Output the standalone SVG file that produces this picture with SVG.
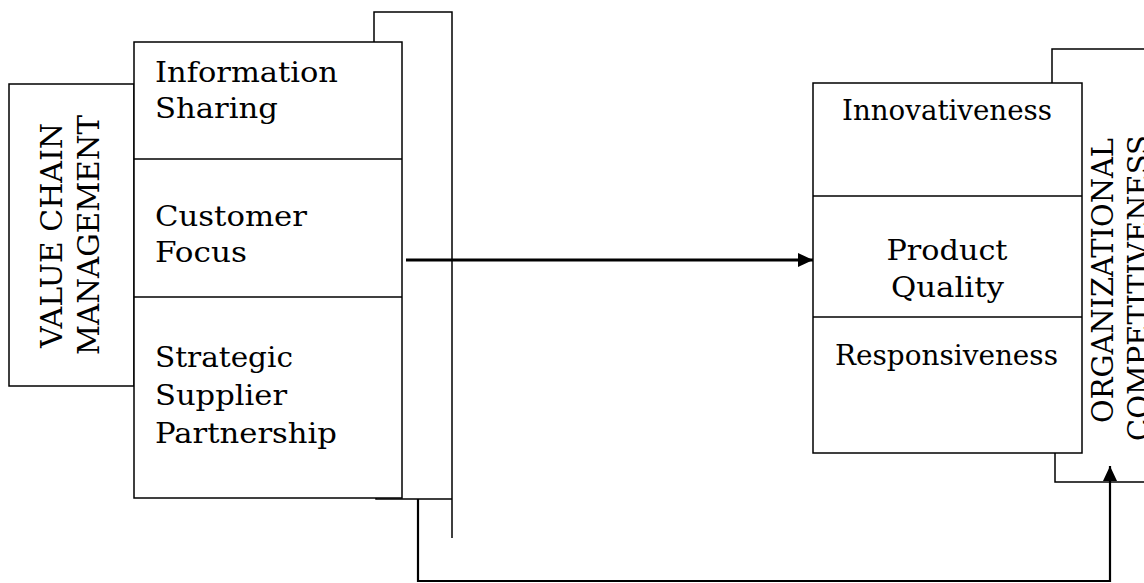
<svg xmlns="http://www.w3.org/2000/svg" width="1144" height="583" viewBox="0 0 1144 583">
<style>
.box{fill:#fff;stroke:#000;stroke-width:1.5}
.ln{fill:none;stroke:#000;stroke-width:1.5}
.t{font-family:"DejaVu Serif","Liberation Serif",serif;font-size:27px;fill:#000}
.tr{font-family:"DejaVu Serif","Liberation Serif",serif;font-size:29px;fill:#000}
.c{text-anchor:middle}
</style>
<defs>
<marker id="ah" markerWidth="15" markerHeight="14" refX="15" refY="7" orient="auto" markerUnits="userSpaceOnUse">
<path d="M0,0 L15,7 L0,14 Z" fill="#000"/>
</marker>
</defs>
<rect width="1144" height="583" fill="#fff"/>
<g id="connectors">
<path class="ln" d="M374,45 V12 H452 V538"/>
<path class="ln" d="M376,467 V499 H452"/>
<path class="ln" d="M1052,83 V49 H1144"/>
<path class="ln" d="M1055,453 V482 H1144"/>
<line x1="406" y1="260" x2="813" y2="260" stroke="#000" stroke-width="3" marker-end="url(#ah)"/>
<path d="M418,499 V581 H1110 V466" fill="none" stroke="#000" stroke-width="2.2" marker-end="url(#ah)"/>
</g>
<g id="vcm">
<rect class="box" x="9" y="84" width="125" height="302"/>
<text class="tr c" transform="translate(62,235.5) rotate(-90)" textLength="225" lengthAdjust="spacingAndGlyphs">VALUE CHAIN</text>
<text class="tr c" transform="translate(99,235) rotate(-90)" textLength="240" lengthAdjust="spacingAndGlyphs">MANAGEMENT</text>
</g>
<g id="vcm-dimensions">
<rect class="box" x="134" y="42" width="268" height="456"/>
<line class="ln" x1="134" y1="159" x2="402" y2="159"/>
<line class="ln" x1="134" y1="297" x2="402" y2="297"/>
<text class="t" x="155" y="82" textLength="183" lengthAdjust="spacingAndGlyphs">Information</text>
<text class="t" x="155" y="118" textLength="123" lengthAdjust="spacingAndGlyphs">Sharing</text>
<text class="t" x="155" y="226" textLength="152" lengthAdjust="spacingAndGlyphs">Customer</text>
<text class="t" x="155" y="262" textLength="92" lengthAdjust="spacingAndGlyphs">Focus</text>
<text class="t" x="155" y="367" textLength="138" lengthAdjust="spacingAndGlyphs">Strategic</text>
<text class="t" x="155" y="405" textLength="132" lengthAdjust="spacingAndGlyphs">Supplier</text>
<text class="t" x="155" y="443" textLength="182" lengthAdjust="spacingAndGlyphs">Partnership</text>
</g>
<g id="oc-dimensions">
<rect class="box" x="813" y="83" width="269" height="370"/>
<line class="ln" x1="813" y1="196" x2="1082" y2="196"/>
<line class="ln" x1="813" y1="317" x2="1082" y2="317"/>
<text class="t c" x="947" y="120" textLength="210" lengthAdjust="spacingAndGlyphs">Innovativeness</text>
<text class="t c" x="947" y="260" textLength="121" lengthAdjust="spacingAndGlyphs">Product</text>
<text class="t c" x="947.5" y="297" textLength="113" lengthAdjust="spacingAndGlyphs">Quality</text>
<text class="t c" x="946.5" y="365" textLength="223" lengthAdjust="spacingAndGlyphs">Responsiveness</text>
</g>
<g id="oc">
<text class="tr c" transform="translate(1113,280.5) rotate(-90)" textLength="285" lengthAdjust="spacingAndGlyphs">ORGANIZATIONAL</text>
<text class="tr c" transform="translate(1149,288) rotate(-90)">COMPETITIVENESS</text>
</g>
</svg>
